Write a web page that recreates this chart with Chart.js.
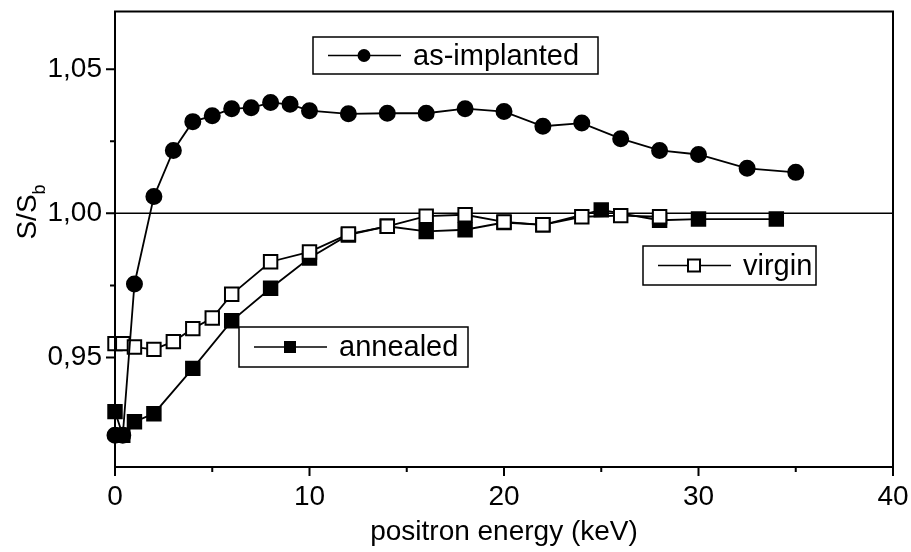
<!DOCTYPE html>
<html>
<head>
<meta charset="utf-8">
<script src="https://cdn.jsdelivr.net/npm/chart.js@4.4.1/dist/chart.umd.min.js"></script>
<style>
    html, body { margin: 0; padding: 0; background: #fff; }
    #wrap { width: 911px; height: 552px; }
</style>
</head>
<body>
<div id="wrap"><canvas id="sChart" width="911" height="552"></canvas></div>
<script>
// S-parameter vs positron energy, three samples
const implantedE = [0, 0.4, 1, 2, 3, 4, 5, 6, 7, 8, 9, 10, 12, 14, 16, 18, 20, 22, 24, 26, 28, 30, 32.5, 35];
const implantedS = [0.923, 0.923, 0.9755, 1.0058, 1.0218, 1.0318, 1.0338, 1.0363, 1.0366, 1.0384, 1.0378, 1.0356,
                    1.0345, 1.0347, 1.0347, 1.0363, 1.0353, 1.0302, 1.0313, 1.0259, 1.0218, 1.0204, 1.0156, 1.0142];

const virginE = [0, 0.4, 1, 2, 3, 4, 5, 6, 8, 10, 12, 14, 16, 18, 20, 22, 24, 26, 28];
const virginS = [0.9548, 0.9548, 0.9536, 0.9528, 0.9555, 0.96, 0.9637, 0.9719, 0.9832, 0.9866, 0.9928,
                 0.9955, 0.999, 0.9995, 0.997, 0.996, 0.9988, 0.9992, 0.9988];

const annealedE = [0, 0.4, 1, 2, 4, 6, 8, 10, 12, 14, 16, 18, 20, 22, 25, 28, 30, 34];
const annealedS = [0.9312, 0.923, 0.9277, 0.9305, 0.9462, 0.9627, 0.974, 0.9845, 0.9925, 0.9955,
                   0.9937, 0.9943, 0.9968, 0.996, 1.0012, 0.9976, 0.998, 0.998];

// bulk reference level S/Sb = 1
const bulkE = [0, 40];
const bulkS = [1, 1];

const xMajor = [0, 10, 20, 30, 40];
const xMinor = [5, 15, 25, 35];
const yMajor = [0.95, 1.00, 1.05];
const yMinor = [0.925, 0.975, 1.025];

const FONT = '"Liberation Sans", Arial, sans-serif';

function toPoints(xs, ys) {
    return xs.map((x, i) => ({ x: x, y: ys[i] }));
}

// frame, ticks, y title with subscript and the three boxed legends
const decorPlugin = {
    id: 'decor',
    afterDraw(chart) {
        const ctx = chart.ctx;
        const a = chart.chartArea;
        const xs = chart.scales.x;
        const ys = chart.scales.y;
        ctx.save();
        ctx.strokeStyle = '#000';
        ctx.lineWidth = 2;
        ctx.strokeRect(a.left, a.top, a.right - a.left, a.bottom - a.top);

        ctx.lineWidth = 2;
        ctx.beginPath();
        xMajor.forEach(v => { const p = xs.getPixelForValue(v); ctx.moveTo(p, a.bottom); ctx.lineTo(p, a.bottom + 9); });
        xMinor.forEach(v => { const p = xs.getPixelForValue(v); ctx.moveTo(p, a.bottom); ctx.lineTo(p, a.bottom + 5); });
        yMajor.forEach(v => { const p = ys.getPixelForValue(v); ctx.moveTo(a.left, p); ctx.lineTo(a.left - 9, p); });
        yMinor.forEach(v => { const p = ys.getPixelForValue(v); ctx.moveTo(a.left, p); ctx.lineTo(a.left - 5, p); });
        ctx.stroke();

        // y title: S/Sb
        ctx.fillStyle = '#000';
        ctx.translate(28, 212);
        ctx.rotate(-Math.PI / 2);
        ctx.font = '28px ' + FONT;
        const main = 'S/S';
        const w = ctx.measureText(main).width;
        ctx.font = '18px ' + FONT;
        const ws = ctx.measureText('b').width;
        const x0 = -(w + ws) / 2;
        ctx.textBaseline = 'middle';
        ctx.textAlign = 'left';
        ctx.font = '28px ' + FONT;
        ctx.fillText(main, x0, 0);
        ctx.font = '18px ' + FONT;
        ctx.fillText('b', x0 + w, 12);
        ctx.restore();

        chart.options.plugins.decor.boxes.forEach(b => drawBox(ctx, b));
    }
};

function drawBox(ctx, b) {
    ctx.save();
    ctx.strokeStyle = '#000';
    ctx.lineWidth = 1.5;
    ctx.fillStyle = '#fff';
    ctx.fillRect(b.x, b.y, b.w, b.h);
    ctx.strokeRect(b.x, b.y, b.w, b.h);
    const cy = b.y + b.h / 2;
    ctx.beginPath();
    ctx.moveTo(b.x + 15, cy);
    ctx.lineTo(b.x + 88, cy);
    ctx.stroke();
    const mx = b.x + 51;
    ctx.lineWidth = 2;
    if (b.marker === 'circle') {
        ctx.fillStyle = '#000';
        ctx.beginPath();
        ctx.arc(mx, cy, 6.5, 0, Math.PI * 2);
        ctx.fill();
    } else if (b.marker === 'filled') {
        ctx.fillStyle = '#000';
        ctx.fillRect(mx - 6, cy - 6, 12, 12);
    } else {
        ctx.fillStyle = '#fff';
        ctx.fillRect(mx - 6, cy - 6, 12, 12);
        ctx.strokeRect(mx - 6, cy - 6, 12, 12);
    }
    ctx.fillStyle = '#000';
    ctx.font = '29px ' + FONT;
    ctx.textBaseline = 'middle';
    ctx.textAlign = 'left';
    ctx.fillText(b.label, b.x + 100, cy + 1);
    ctx.restore();
}

const lineStyle = {
    borderColor: '#000',
    borderWidth: 1.8,
    showLine: true,
    clip: false,
    pointBorderColor: '#000',
    pointBorderWidth: 2
};

new Chart(document.getElementById('sChart').getContext('2d'), {
    type: 'scatter',
    data: {
        datasets: [
            Object.assign({}, lineStyle, {
                label: 'as-implanted',
                data: toPoints(implantedE, implantedS),
                pointStyle: 'circle',
                pointRadius: 7.5,
                pointBackgroundColor: '#000',
                order: 0
            }),
            Object.assign({}, lineStyle, {
                label: 'virgin',
                data: toPoints(virginE, virginS),
                pointStyle: 'rect',
                pointRadius: 9.5,
                pointBackgroundColor: '#fff',
                order: 1
            }),
            Object.assign({}, lineStyle, {
                label: 'annealed',
                data: toPoints(annealedE, annealedS),
                pointStyle: 'rect',
                pointRadius: 9.5,
                pointBackgroundColor: '#000',
                order: 2
            }),
            {
                label: 'bulk',
                data: toPoints(bulkE, bulkS),
                showLine: true,
                borderColor: '#000',
                borderWidth: 1.5,
                pointRadius: 0,
                order: 3
            }
        ]
    },
    options: {
        responsive: false,
        animation: false,
        layout: { padding: { top: 8, right: 18, left: 0, bottom: 0 } },
        plugins: {
            legend: { display: false },
            tooltip: { enabled: false },
            decor: {
                boxes: [
                    { label: 'as-implanted', marker: 'circle', x: 313, y: 37, w: 285, h: 37 },
                    { label: 'virgin', marker: 'open', x: 643, y: 246, w: 173, h: 39 },
                    { label: 'annealed', marker: 'filled', x: 239, y: 327, w: 229, h: 40 }
                ]
            }
        },
        scales: {
            x: {
                type: 'linear',
                min: 0,
                max: 40,
                afterFit: (scale) => {
                    scale.height = 85;
                    scale.paddingLeft = 0;
                    scale.paddingRight = 0;
                },
                grid: { display: false, drawTicks: false },
                border: { display: false },
                ticks: {
                    stepSize: 10,
                    padding: 13,
                    color: '#000',
                    font: { family: FONT, size: 28 }
                },
                title: {
                    display: true,
                    text: 'positron energy (keV)',
                    color: '#000',
                    font: { family: FONT, size: 28 },
                    padding: { top: 0, bottom: 3 }
                }
            },
            y: {
                type: 'linear',
                min: 0.912,
                max: 1.07,
                afterFit: (scale) => {
                    scale.width = 115;
                    scale.paddingTop = 0;
                    scale.paddingBottom = 0;
                },
                grid: { display: false, drawTicks: false },
                border: { display: false },
                ticks: {
                    stepSize: 0.05,
                    includeBounds: false,
                    padding: 13,
                    color: '#000',
                    font: { family: FONT, size: 28 },
                    callback: (v) => v.toFixed(2).replace('.', ',')
                }
            }
        }
    },
    plugins: [decorPlugin]
});
</script>
</body>
</html>
